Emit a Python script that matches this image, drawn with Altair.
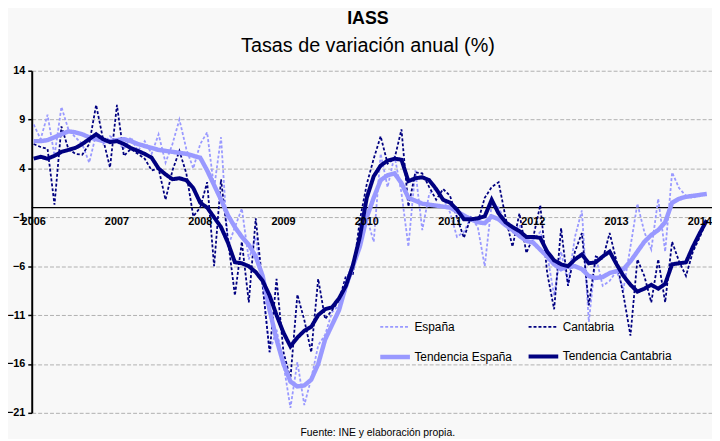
import altair as alt
import pandas as pd

years = ["2006", "2007", "2008", "2009", "2010", "2011", "2012", "2013", "2014"]
y_ticks = [14, 9, 4, -1, -6, -11, -16, -21]
series_names = ["España", "Cantabria", "Tendencia España", "Tendencia Cantabria"]
legend_order = ["España", "Tendencia España", "Cantabria", "Tendencia Cantabria"]

espana = [
    8.5, 7.0, 9.5, 5.3, 10.3, 8.0, 7.2, 6.5, 4.6, 7.5,
    6.5, 7.3, 6.8, 6.0, 7.2, 5.8, 6.8, 5.5, 7.5, 4.6,
    6.5, 9.0, 6.0, 4.0, 6.5, 7.7, 2.0, 7.2, -4.0, -2.0,
    -0.1, -5.3, -3.0, -8.0, -14.8, -12.5, -16.0, -20.5, -15.8, -20.2,
    -17.5, -14.1, -13.0, -10.7, -10.0, -8.5, -6.3, -4.0, -1.0, -3.5,
    5.5, 2.1, 5.3, 1.5, -4.0, 3.8, -2.3, 1.4, 2.0, 1.0,
    -0.5, -3.0, -2.5, -1.0, -2.0, -6.0, 0.4, 0.0, -1.5, -2.5,
    -1.8, -3.6, -3.3, -2.5, -4.8, -9.0, -4.5, -7.8, -3.0, -0.3,
    -11.7, -5.0, -8.0, -7.5, -6.5, -8.3, -4.0, 0.4, -2.5, -4.3,
    0.9, -4.5, 3.6, 2.0, 1.2, 1.0, 1.3, 1.4,
]

cantabria = [
    6.5, 6.2, 6.0, 0.3, 8.3, 6.0, 5.5, 5.4, 6.5, 10.5,
    7.0, 4.1, 10.5, 5.3, 6.0, 5.5, 5.0, 3.8, 4.0, 0.8,
    3.8, 5.8, 3.5, -0.9, 0.0, 2.6, -6.0, 2.9, -3.3, -9.0,
    -3.5, -9.7, -1.1, -8.0, -14.8, -7.3, -14.8, -17.5, -8.9, -11.5,
    -14.8, -7.3, -11.4, -10.5, -9.5, -7.0, -6.8, -1.3, 2.4, 5.0,
    7.3, 4.5, 5.0, 8.0, 0.1, 3.6, 3.5, 2.1, 0.8, 1.9,
    1.2, -1.0, -3.1, -1.0, -1.5, 1.0, 2.1, 2.6, -1.0, -4.0,
    -0.6, -4.65, -3.0, 0.25, -6.7, -10.4, -2.1, -8.0, -4.5, -2.6,
    -10.0, -5.0, -5.3, -2.6, -5.5, -9.0, -13.1, -5.3, -7.0, -9.7,
    -5.3, -9.7, -3.5, -5.5, -7.0, -4.5, -3.0, -1.3,
]

tend_espana = [
    6.8, 6.8, 6.9, 7.2, 7.5, 7.8, 7.7, 7.5, 7.2, 7.0,
    6.8, 6.8, 6.9, 7.0, 6.8, 6.5, 6.3, 6.1, 5.9, 5.8,
    5.7, 5.6, 5.5, 5.3, 5.1, 3.8, 2.3, 0.8, -0.8, -2.0,
    -3.0, -3.8, -5.0, -7.0, -10.5, -13.5, -16.0, -17.8, -18.3, -18.2,
    -17.6, -16.0, -13.5, -12.0, -10.5, -8.0, -6.0, -4.0, -1.0, 1.0,
    2.8, 3.3, 3.5, 2.5, 1.0, 0.7, 0.4, 0.3, 0.2, 0.1,
    0.0, -0.4, -0.8, -1.2, -1.5, -1.6, -0.9, -1.2, -1.8, -2.3,
    -2.9, -3.4, -3.6, -4.3, -5.0, -5.8, -6.3, -6.0, -6.0, -6.3,
    -7.0, -7.2, -7.1, -6.7, -6.5, -6.3, -5.5, -4.5, -3.5, -2.8,
    -2.3, -1.5, 0.5, 0.9, 1.1, 1.2, 1.3, 1.4,
]

tend_cantabria = [
    5.0, 5.2, 5.0, 5.3, 5.7, 5.9, 6.1, 6.5, 7.0, 7.5,
    7.0, 6.7, 6.8, 6.5, 6.1, 5.8, 5.5, 5.1, 4.0, 3.4,
    2.9, 3.0, 2.8, 2.0, 0.5, 0.0, -1.0, -2.0, -3.6, -5.6,
    -5.7, -6.0, -6.6, -7.5, -9.0, -11.0, -12.8, -14.2, -13.3, -12.6,
    -12.2, -11.0, -10.4, -10.2, -9.3, -8.0, -5.9, -3.0, 1.0, 3.2,
    4.3, 4.8, 5.0, 4.9, 2.7, 3.0, 3.1, 2.8, 1.9, 0.8,
    0.5, -0.2, -1.2, -1.2, -1.1, -0.9, 0.8, -0.6, -1.5, -2.0,
    -2.4, -3.0, -3.0, -3.1, -4.5, -5.4, -5.8, -6.0, -5.3, -4.8,
    -5.7, -5.6, -5.0, -4.5, -5.8, -7.0, -7.9, -8.6, -8.3, -7.9,
    -8.3, -7.8, -5.8, -5.7, -5.6, -4.0, -2.6, -1.3,
]

FONT = "Liberation Sans"

rows = []
for name, vals in zip(series_names, [espana, cantabria, tend_espana, tend_cantabria]):
    for i, v in enumerate(vals):
        rows.append({"mes": i, "valor": v, "serie": name})
df = pd.DataFrame(rows)

df_years = pd.DataFrame({"mes": [12 * i for i in range(len(years))], "anio": years})

x_enc = alt.X("mes:Q", scale=alt.Scale(domain=[-0.28, 97.75], nice=False, zero=False), axis=None)
y_scale = alt.Scale(domain=[-21, 14], nice=False, zero=False)
y_enc = alt.Y(
    "valor:Q",
    scale=y_scale,
    axis=alt.Axis(
        values=y_ticks, title=None, grid=True, gridDash=[4, 2], gridColor="#b0b0b0",
        gridWidth=1, domainColor="black", domainWidth=2, tickColor="black",
        tickSize=4, tickWidth=1.5, labelFont=FONT, labelFontWeight="bold",
        labelFontSize=11, labelPadding=3, labelColor="black",
    ),
)

color_enc = alt.Color(
    "serie:N",
    scale=alt.Scale(domain=legend_order, range=["#9999ff", "#9999ff", "#000080", "#000080"]),
    legend=alt.Legend(
        orient="none", legendX=350, legendY=243, columns=2, title=None,
        symbolType="stroke", symbolSize=900, labelFont=FONT, labelFontSize=12,
        labelColor="black", columnPadding=8, rowPadding=7, labelOffset=2,
        padding=0, labelLimit=250,
    ),
)
dash_enc = alt.StrokeDash(
    "serie:N",
    scale=alt.Scale(domain=legend_order, range=[[3, 2], [1, 0], [3, 2], [1, 0]]),
)
width_enc = alt.StrokeWidth(
    "serie:N",
    scale=alt.Scale(type="ordinal", domain=legend_order, range=[1.8, 4.5, 1.8, 4]),
)

zero_rule = alt.Chart(pd.DataFrame({"cero": [0]})).mark_rule(color="black", strokeWidth=1.2).encode(
    y=alt.Y("cero:Q", scale=y_scale)
)

layers = [zero_rule]
for name in series_names:
    layers.append(
        alt.Chart(df).transform_filter(alt.datum.serie == name).mark_line().encode(
            x=x_enc, y=y_enc, color=color_enc, strokeDash=dash_enc, strokeWidth=width_enc
        )
    )

year_labels = alt.Chart(df_years).mark_text(
    font=FONT, fontWeight="bold", fontSize=11, color="black", baseline="middle", dy=15
).encode(x=x_enc, y=alt.datum(0), text="anio:N")

title = alt.Chart(pd.DataFrame({"t": ["IASS"]})).mark_text(
    font=FONT, fontWeight="bold", fontSize=18, color="black", baseline="middle"
).encode(x=alt.value(340), y=alt.value(-52), text="t:N")

subtitle = alt.Chart(pd.DataFrame({"t": ["Tasas de variación anual (%)"]})).mark_text(
    font=FONT, fontSize=20, color="black", baseline="middle"
).encode(x=alt.value(340), y=alt.value(-25), text="t:N")

footer = alt.Chart(pd.DataFrame({"t": ["Fuente: INE y elaboración propia."]})).mark_text(
    font=FONT, fontSize=10.5, color="black", baseline="middle"
).encode(x=alt.value(350), y=alt.value(366), text="t:N")

chart = alt.layer(*layers, year_labels, title, subtitle, footer).properties(
    width=688,
    height=346,
    autosize=alt.AutoSizeParams(type="none"),
    padding={"left": 24, "top": 61, "right": 0, "bottom": 24},
    background="#f8f8f8",
).configure_view(stroke=None)

chart.save("out.html", embed_options={"renderer": "svg", "actions": False})
